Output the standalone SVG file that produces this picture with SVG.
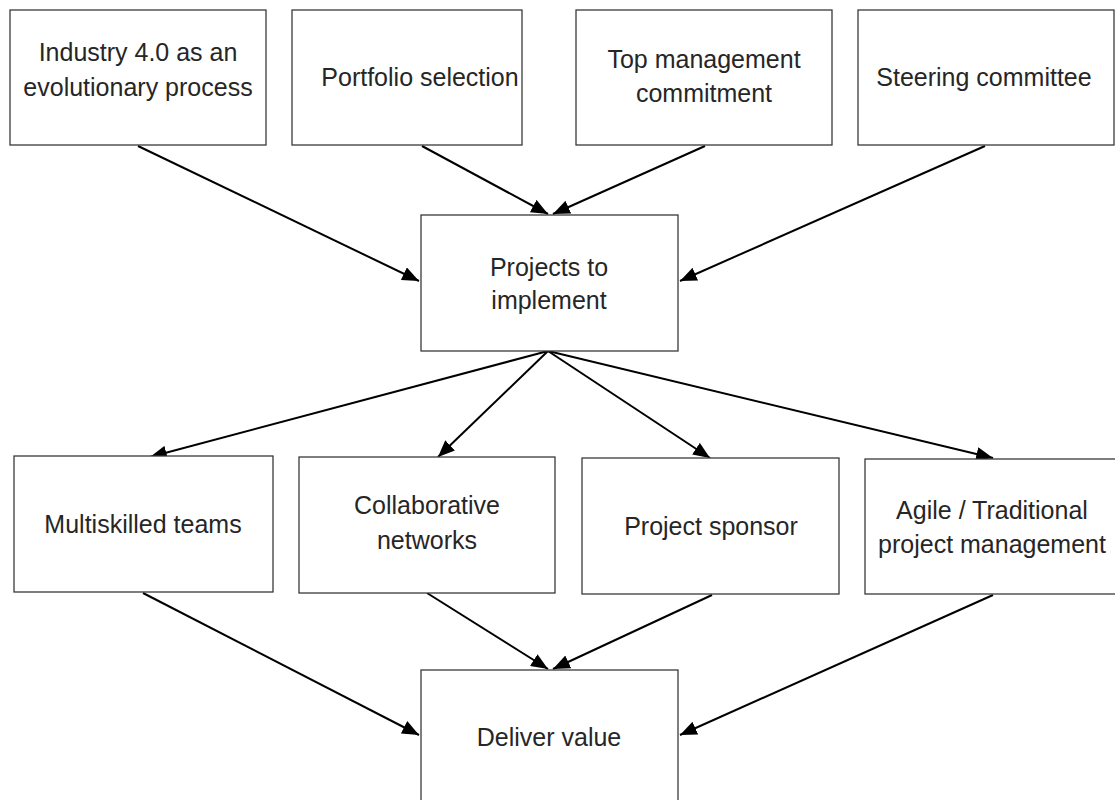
<svg xmlns="http://www.w3.org/2000/svg" width="1115" height="800" viewBox="0 0 1115 800">
<style>
.box{fill:#fff;stroke:#3a3a3a;stroke-width:1.3}
.t{font-family:"Liberation Sans",Arial,sans-serif;font-size:25px;fill:#262626;text-anchor:middle}
.c{stroke:#000;stroke-width:2;fill:none;marker-end:url(#a)}
</style>
<defs>
<marker id="a" viewBox="0 0 12 10" refX="12" refY="5" markerWidth="17" markerHeight="14" markerUnits="userSpaceOnUse" orient="auto">
<path d="M0,0 L12,5 L0,10 z" fill="#000"/>
</marker>
</defs>
<rect width="1115" height="800" fill="#fff"/>
<g id="connectors">
<line class="c" x1="138" y1="146" x2="419" y2="281"/>
<line class="c" x1="422" y1="146" x2="548" y2="214"/>
<line class="c" x1="705" y1="146" x2="553" y2="214"/>
<line class="c" x1="985" y1="146" x2="680" y2="281"/>
<line class="c" x1="548" y1="351" x2="150" y2="457"/>
<line class="c" x1="548" y1="351" x2="438" y2="457"/>
<line class="c" x1="548" y1="351" x2="710" y2="458"/>
<line class="c" x1="548" y1="351" x2="993" y2="458"/>
<line class="c" x1="143" y1="593" x2="419" y2="735"/>
<line class="c" x1="427" y1="593" x2="548" y2="669"/>
<line class="c" x1="712" y1="595" x2="553" y2="669"/>
<line class="c" x1="993" y1="595" x2="680" y2="735"/>
</g>
<g id="n1"><rect class="box" x="10" y="10" width="256" height="135"/><text class="t" x="138" y="61">Industry 4.0 as an</text><text class="t" x="138" y="96">evolutionary process</text></g>
<g id="n2"><rect class="box" x="292" y="10" width="230" height="135"/><text class="t" x="420" y="86">Portfolio selection</text></g>
<g id="n3"><rect class="box" x="576" y="10" width="256" height="135"/><text class="t" x="704" y="68">Top management</text><text class="t" x="704" y="102">commitment</text></g>
<g id="n4"><rect class="box" x="858" y="10" width="256" height="135"/><text class="t" x="984" y="86">Steering committee</text></g>
<g id="n5"><rect class="box" x="421" y="215" width="257" height="136"/><text class="t" x="549" y="276">Projects to</text><text class="t" x="549" y="309">implement</text></g>
<g id="n6"><rect class="box" x="14" y="456" width="259" height="136"/><text class="t" x="143" y="533">Multiskilled teams</text></g>
<g id="n7"><rect class="box" x="299" y="457" width="256" height="136"/><text class="t" x="427" y="514">Collaborative</text><text class="t" x="427" y="549">networks</text></g>
<g id="n8"><rect class="box" x="582" y="458" width="257" height="136"/><text class="t" x="711" y="535">Project sponsor</text></g>
<g id="n9"><rect class="box" x="865" y="459" width="260" height="135"/><text class="t" x="992" y="519">Agile / Traditional</text><text class="t" x="992" y="553">project management</text></g>
<g id="n10"><rect class="box" x="421" y="670" width="257" height="140"/><text class="t" x="549" y="746">Deliver value</text></g>
</svg>
